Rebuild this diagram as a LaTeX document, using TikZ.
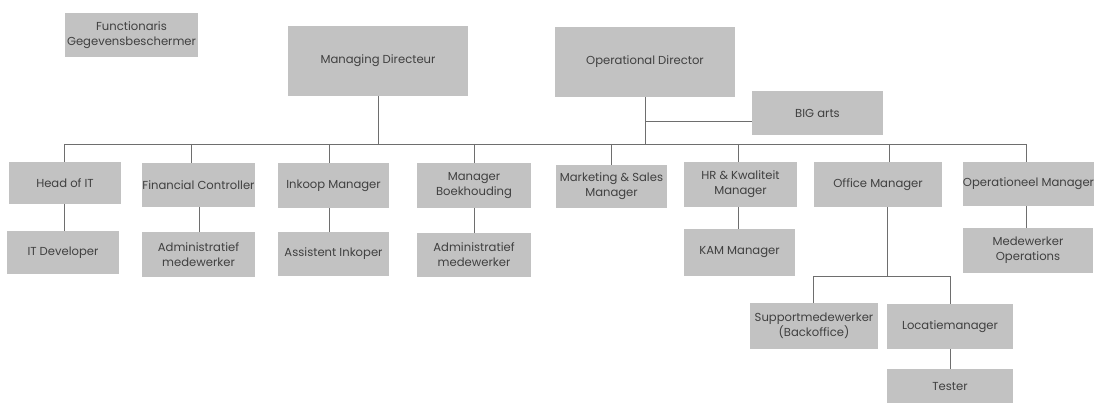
\documentclass[tikz,border=0pt]{standalone}
\usepackage{fontspec}
\setmainfont{Poppins}
\begin{document}
\begin{tikzpicture}[x=1pt,y=-1pt,
  box/.style={draw=none,fill=boxgray,inner sep=0pt,align=center,text=txtgray,
    font=\fontsize{11.6}{15}\selectfont},
  conn/.style={draw=linegray,line width=0.9pt}]
\definecolor{boxgray}{HTML}{C2C2C2}
\definecolor{linegray}{HTML}{6E6E6E}
\definecolor{txtgray}{HTML}{404040}
\useasboundingbox (0,0) rectangle (1094,403);
\clip (0,0) rectangle (1094,403);
% top
\node[box,minimum width=133,minimum height=44] (fg) at (131.5,35) {Functionaris\\Gegevensbeschermer};
\node[box,minimum width=180,minimum height=70] (md) at (378,61) {Managing Directeur};
\node[box,minimum width=180,minimum height=70] (od) at (645,62) {Operational Director};
\node[box,minimum width=131,minimum height=44] (big) at (817.5,113) {BIG arts};
% row 1
\node[box,minimum width=112,minimum height=42] (hit) at (65,183) {Head of IT};
\node[box,minimum width=113,minimum height=44] (fc) at (198.5,185) {Financial Controller};
\node[box,minimum width=111,minimum height=45] (ink) at (333.5,185.5) {Inkoop Manager};
\node[box,minimum width=114,minimum height=45] (mb) at (474,185.5) {Manager\\Boekhouding};
\node[box,minimum width=111,minimum height=43] (ms) at (611.5,186.5) {Marketing \& Sales\\Manager};
\node[box,minimum width=113,minimum height=45] (hr) at (740.5,184.5) {HR \& Kwaliteit\\Manager};
\node[box,minimum width=128,minimum height=45] (om) at (878,184.5) {Office Manager};
\node[box,minimum width=131,minimum height=44] (opm) at (1028.5,184) {Operationeel Manager};
% row 2
\node[box,minimum width=112,minimum height=43] (itd) at (63,252.5) {IT Developer};
\node[box,minimum width=113,minimum height=45] (am1) at (198.5,254.5) {Administratief\\medewerker};
\node[box,minimum width=111,minimum height=44] (ai) at (333.5,254) {Assistent Inkoper};
\node[box,minimum width=114,minimum height=44] (am2) at (474,255) {Administratief\\medewerker};
\node[box,minimum width=111,minimum height=47] (kam) at (739.5,252.5) {KAM Manager};
\node[box,minimum width=130,minimum height=45] (mo) at (1028,250.5) {Medewerker\\Operations};
% row 3/4
\node[box,minimum width=128,minimum height=46] (sup) at (814,326) {Supportmedewerker\\(Backoffice)};
\node[box,minimum width=126,minimum height=45] (loc) at (950,326.5) {Locatiemanager};
\node[box,minimum width=126,minimum height=36] (tes) at (950,387) {Tester};
% connectors
\coordinate (barL) at (64,144);
\coordinate (barR) at (1026,144);
\draw[conn] (barL) -- (barR);
\draw[conn] (md.south) -- (md.south |- barL);
\draw[conn] (od.south) -- (od.south |- barL);
\coordinate (odj) at (645,121);
\draw[conn] (odj) -- (big.west |- odj);
\draw[conn] (barL) -- (barL |- hit.north);
\draw[conn] (hit.south -| barL) -- (itd.north -| barL);
\coordinate (c2) at (191,144);
\draw[conn] (c2) -- (c2 |- fc.north);
\coordinate (c2b) at (199,0);
\draw[conn] (c2b |- fc.south) -- (c2b |- am1.north);
\coordinate (c3) at (329,144);
\draw[conn] (c3) -- (c3 |- ink.north);
\draw[conn] (c3 |- ink.south) -- (c3 |- ai.north);
\coordinate (c4) at (474,144);
\draw[conn] (c4) -- (mb.north);
\draw[conn] (mb.south) -- (am2.north);
\coordinate (c5) at (611,144);
\draw[conn] (c5) -- (c5 |- ms.north);
\coordinate (c6) at (738,144);
\draw[conn] (c6) -- (c6 |- hr.north);
\draw[conn] (c6 |- hr.south) -- (c6 |- kam.north);
\coordinate (c7) at (889,144);
\draw[conn] (c7) -- (c7 |- om.north);
\coordinate (c7b) at (887,276);
\draw[conn] (c7b |- om.south) -- (c7b);
\coordinate (sj) at (813,276);
\coordinate (lj) at (950,276);
\draw[conn] (sj) -- (lj);
\draw[conn] (sj) -- (sj |- sup.north);
\draw[conn] (lj) -- (loc.north);
\draw[conn] (loc.south) -- (tes.north);
\draw[conn] (barR) -- (barR |- opm.north);
\draw[conn] (barR |- opm.south) -- (barR |- mo.north);
\end{tikzpicture}
\end{document}
